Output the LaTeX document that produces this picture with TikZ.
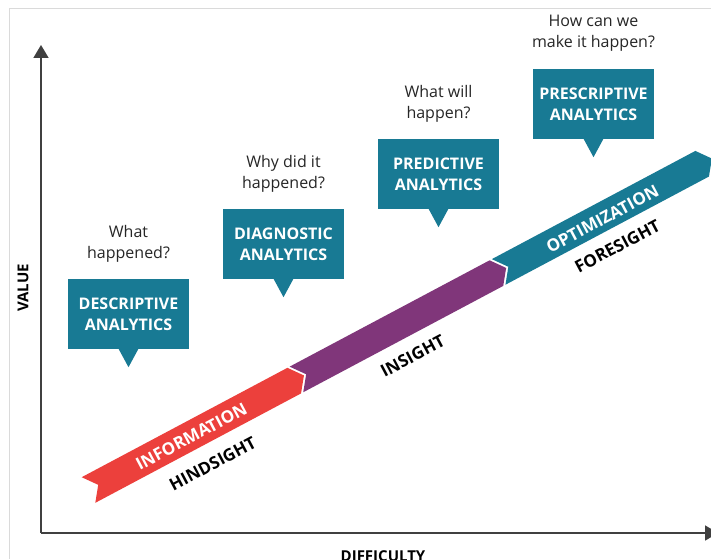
\documentclass[tikz,border=0pt]{standalone}
\usepackage{fontspec}
\setmainfont{Open Sans}
\usetikzlibrary{arrows.meta}
\definecolor{tealc}{HTML}{187A94}
\definecolor{redc}{HTML}{EC403C}
\definecolor{purplec}{HTML}{80367A}
\definecolor{framec}{HTML}{DADADA}
\begin{document}
\begin{tikzpicture}[x=1pt,y=-1pt,
  box/.style={fill=tealc, text=white, minimum width=121pt, minimum height=70pt, inner sep=0pt, align=center, font=\bfseries\fontsize{16}{21}\selectfont},
  question/.style={align=center, text=black!85, font=\fontsize{16}{21}\selectfont, inner sep=0pt},
  axisline/.style={draw=black!75, line width=1.8pt, -{Triangle[width=15pt,length=13pt]}},
  axislabel/.style={font=\bfseries\fontsize{15}{18}\selectfont, text=black, inner sep=0pt},
  bandlabel/.style={font=\bfseries\fontsize{17}{19}\selectfont, inner sep=0pt, transform shape},
  segment/.style={draw=white, line width=0.8pt, line join=miter}
]
\useasboundingbox (0,0) rectangle (711,559);
\clip (0,0) rectangle (711,559);
\fill[white] (0,0) rectangle (711,559);
% frame
\draw[framec, line width=1pt] (9,559) -- (9,9) -- (711,9);
% axes
\coordinate (origin) at (41,533);
\coordinate (ytop) at (41,45);
\coordinate (xend) at (718,533);
\draw[axisline] (origin) -- (ytop);
\draw[axisline] (origin) -- (xend);
\node[axislabel, rotate=90] (value) at (23,288) {VALUE};
\node[axislabel, anchor=base] (difficulty) at (383,561) {DIFFICULTY};
% band
\begin{scope}[shift={(88.5,490)}, rotate=28]
  \fill[redc] (0,-14.5) -- (233,-14.5) -- (244,0) -- (233,14.5) -- (0,14.5) -- (11,0) -- cycle;
  \fill[purplec] (235.5,-14.5) -- (462,-14.5) -- (473,0) -- (462,14.5) -- (235.5,14.5) -- (246.5,0) -- cycle;
  \fill[tealc] (464.5,-14.5) -- (695,-14.5) -- (706,0) -- (695,14.5) -- (464.5,14.5) -- (475.5,0) -- cycle;
  \node[bandlabel, text=white] (information) at (116,1) {INFORMATION};
  \node[bandlabel, text=black] (hindsight) at (122,35) {HINDSIGHT};
  \node[bandlabel, text=black] (insight) at (349,34) {INSIGHT};
  \node[bandlabel, text=white] (optimization) at (581,2) {OPTIMIZATION};
  \node[bandlabel, text=black] (foresight) at (581.5,33) {FORESIGHT};
\end{scope}
% boxes
\node[box] (desc) at (128.5,314) {DESCRIPTIVE\\ANALYTICS};
\node[box] (diag) at (283.5,244) {DIAGNOSTIC\\ANALYTICS};
\node[box] (pred) at (438.5,174) {PREDICTIVE\\ANALYTICS};
\node[box] (presc) at (593.5,104) {PRESCRIPTIVE\\ANALYTICS};
\foreach \b in {desc,diag,pred,presc}{
  \fill[tealc] ([xshift=-10pt,yshift=0.5pt]\b.south) -- ([xshift=10pt,yshift=0.5pt]\b.south) -- ([yshift=-18pt]\b.south) -- cycle;
}
% questions
\node[question] (q1) at (128.5,243.5) {What\\happened?};
\node[question] (q2) at (283.5,173.5) {Why did it\\happened?};
\node[question] (q3) at (438.5,103.5) {What will\\happen?};
\node[question] (q4) at (593.5,33.5) {How can we\\make it happen?};
\end{tikzpicture}
\end{document}
